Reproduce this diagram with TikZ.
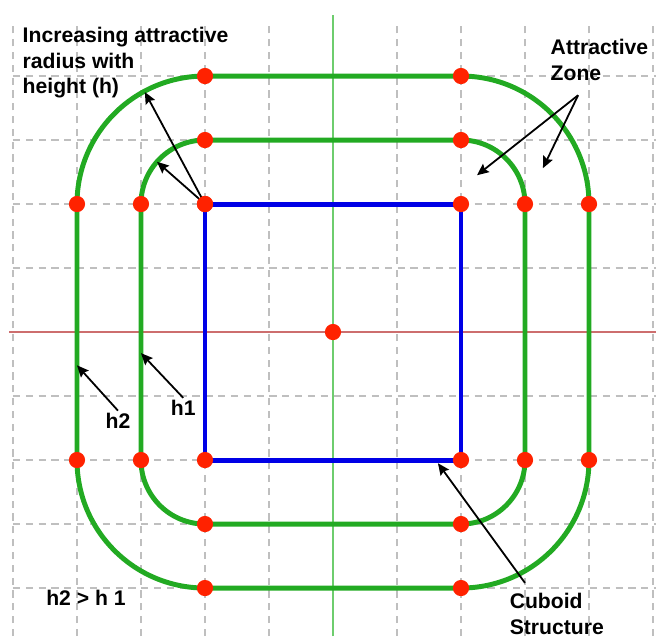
\documentclass[tikz,border=0pt]{standalone}
\usepackage{fontspec}
\setmainfont{Liberation Sans}
\usepackage{tikz}
\usetikzlibrary{arrows.meta}

\definecolor{zonegreen}{RGB}{34,170,34}
\definecolor{axisgreen}{RGB}{110,205,110}
\definecolor{axisred}{RGB}{205,110,110}
\definecolor{cubeblue}{RGB}{0,0,230}
\definecolor{dotred}{RGB}{255,34,0}

\tikzset{
  grid line/.style={gray!50, line width=0.6pt, dash pattern=on 3.2pt off 2.5pt},
  zone line/.style={draw=zonegreen, line width=2.2pt, rounded corners=#1},
  dot/.style={circle, fill=dotred, inner sep=0pt, minimum size=7.2pt},
  note/.style={font=\bfseries\fontsize{9.4}{11.5}\selectfont, align=left, inner sep=1pt},
  pointer/.style={-{Stealth[length=5.2pt,width=4.6pt,inset=0.8pt]}, line width=0.8pt, black},
}

\begin{document}
\begin{tikzpicture}
    \useasboundingbox (-5.203,-4.75) rectangle (5.047,5.188);
    % grid
    \foreach \x in {-5,...,5}
      \draw[grid line] (\x,-4.75) -- (\x,4.84);
    \foreach \y in {-4,...,4}
      \draw[grid line] (-5,\y) -- (5.05,\y);
    % axes
    \draw[axisred, line width=0.9pt] (-5.06,0) -- (5.05,0);
    \draw[axisgreen, line width=0.9pt] (0,-4.75) -- (0,4.95);
    % attractive zones and cuboid
    \draw[zone line=2cm] (-4,-4) rectangle (4,4);
    \draw[zone line=1cm] (-3,-3) rectangle (3,3);
    \draw[cubeblue, line width=2.2pt] (-2,-2) rectangle (2,2);
    % points
    \node[dot] (centre) at (0,0) {};
    \foreach \x/\y/\n in {-2/2/nw, 2/2/ne, -2/-2/sw, 2/-2/se} {
      \node[dot] (\n) at (\x,\y) {};
      \node[dot] at (\x,1.5*\y) {};
      \node[dot] at (1.5*\x,\y) {};
      \node[dot] at (\x,2*\y) {};
      \node[dot] at (2*\x,\y) {};
    }
    % texts
    \node[note, anchor=west] (incr) at (-4.89,4.21) {Increasing attractive\\radius with\\height (h)};
    \node[note, anchor=west] (zonetxt) at (3.36,4.25) {Attractive\\Zone};
    \node[note] (lh2) at (-3.36,-1.39) {h2};
    \node[note] (lh1) at (-2.34,-1.19) {h1};
    \node[note] (cmp) at (-3.86,-4.16) {h2 > h 1};
    \node[note, anchor=west] (cuboid) at (2.72,-4.40) {Cuboid\\Structure};
    % arrow ends
    \coordinate (outarc) at (-2.94,3.75);
    \coordinate (inarc) at (-2.75,2.66);
    \coordinate (zsrc) at (3.83,3.70);
    \coordinate (zin) at (2.25,2.45);
    \coordinate (zout) at (3.28,2.56);
    \coordinate (h2end) at (-4,-0.52);
    \coordinate (h1end) at (-3,-0.33);
    \coordinate (csrc) at (3.0,-3.92);
    \coordinate (cend) at (1.64,-2.05);
    % arrows
    \draw[pointer] (nw.center) -- (outarc);
    \draw[pointer] (nw.center) -- (inarc);
    \draw[pointer] (zsrc) -- (zin);
    \draw[pointer] (zsrc) -- (zout);
    \draw[pointer] (lh2.north) -- (h2end);
    \draw[pointer] (lh1.north) -- (h1end);
    \draw[pointer] (csrc) -- (cend);
    \node[dot] at (nw) {};
\end{tikzpicture}
\end{document}
